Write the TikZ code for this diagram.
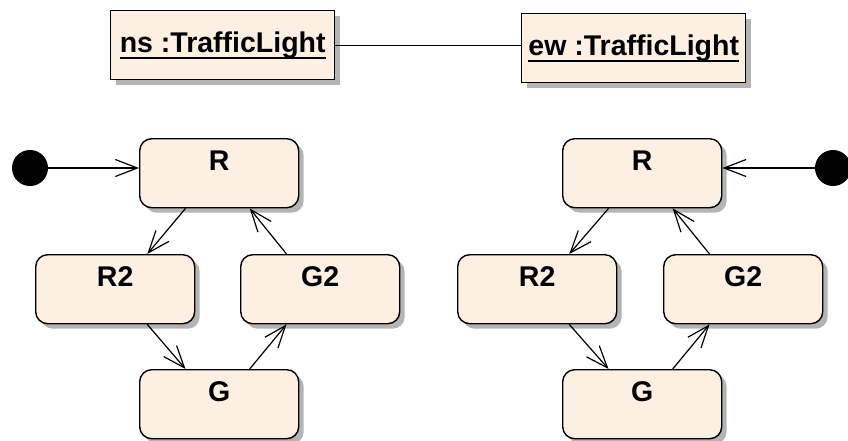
\documentclass[tikz,border=0pt]{standalone}
\usepackage{fontspec}
\setmainfont{Liberation Sans}
\usetikzlibrary{arrows.meta,shadows,calc}
\definecolor{statefill}{HTML}{FBF0E2}
\definecolor{shadowgray}{HTML}{B4B4B4}
% underline with a heavier rule than \underline gives
\newcommand\objname[1]{\setbox0\hbox{#1}\rlap{\rule[-6pt]{\wd0}{1.8pt}}\box0}
\begin{document}
\begin{tikzpicture}[x=1pt,y=-1pt,
  boxshadow/.style={drop shadow={shadow xshift=5pt,shadow yshift=-5pt,fill=shadowgray,opacity=1}},
  objbox/.style={draw,line width=1.4pt,fill=statefill,boxshadow,minimum width=224pt,
    inner xsep=0pt,inner ysep=0pt,text height=42pt,text depth=27pt,anchor=north west,
    font=\fontsize{28.5}{31}\selectfont\bfseries},
  state/.style={draw,line width=1.4pt,fill=statefill,boxshadow,rounded corners=12pt,
    minimum width=159pt,inner xsep=0pt,inner ysep=0pt,text height=32pt,text depth=37pt,
    anchor=north west,font=\fontsize{28.5}{31}\selectfont\bfseries},
  initial/.style={circle,fill=black,minimum size=36pt,inner sep=0pt},
  trans/.style={line width=1.2pt,-{Straight Barb[length=22pt,width=17pt,line width=1.2pt]}},
  assoc/.style={line width=1.2pt}]
\useasboundingbox (0,0) rectangle (848,440);

% objects
\node[objbox] (ns) at (110,10) {\objname{ns :TrafficLight}};
\node[objbox] (ew) at (521,13) {\objname{ew :TrafficLight}};
\draw[assoc] (ns.east) -- (ns.east -| ew.west);

% state machine of ns
\node[state] (R)  at (139,138) {R};
\node[state] (R2) at (35,254)  {R2};
\node[state] (G2) at (240,254) {G2};
\node[state] (G)  at (139,369) {G};
\node[initial] (i1) at (30,168) {};

% state machine of ew
\node[state] (Rb)  at (562,138) {R};
\node[state] (R2b) at (457,254) {R2};
\node[state] (G2b) at (663,254) {G2};
\node[state] (Gb)  at (562,369) {G};
\node[initial] (i2) at (833,168) {};

% transitions
\foreach \r/\rr/\g/\gg/\ii in {R/R2/G2/G/i1, Rb/R2b/G2b/Gb/i2}{
  \draw[trans] ($(\r.south west)!.29!(\r.south east)$) -- ($(\rr.north west)!.70!(\rr.north east)$);
  \draw[trans] ($(\rr.south west)!.70!(\rr.south east)$) -- ($(\gg.north west)!.29!(\gg.north east)$);
  \draw[trans] ($(\gg.north west)!.69!(\gg.north east)$) -- ($(\g.south west)!.29!(\g.south east)$);
  \draw[trans] ($(\g.north west)!.29!(\g.north east)$) -- ($(\r.south west)!.69!(\r.south east)$);
}
\draw[trans] (i1.east) -- (i1.east -| R.west);
\draw[trans] (i2.west) -- (i2.west -| Rb.east);
\end{tikzpicture}
\end{document}
